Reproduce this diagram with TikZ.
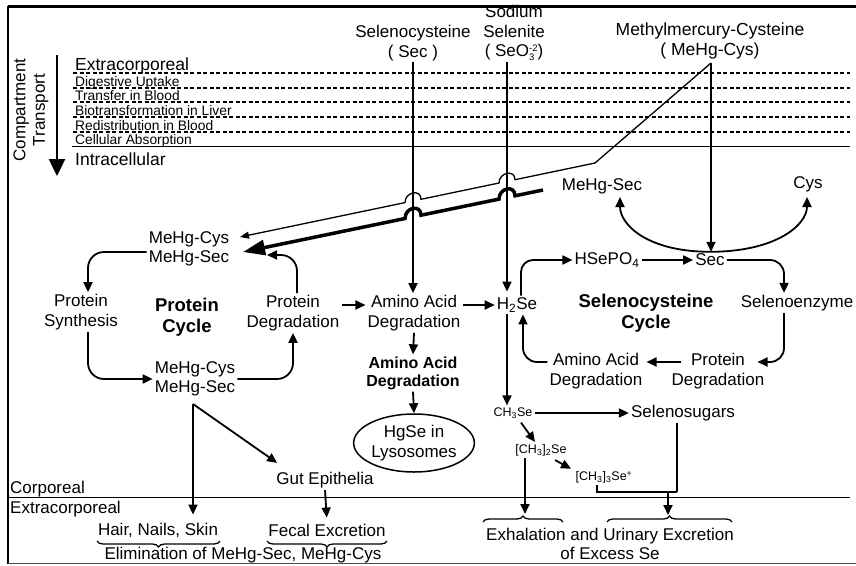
\documentclass[tikz,border=0pt]{standalone}
\usepackage{fontspec}
\setmainfont{Liberation Sans}
\usetikzlibrary{arrows.meta,shapes.geometric,decorations.pathreplacing}

\newcommand{\chemss}[2]{\rlap{\raisebox{-4pt}{\fontsize{9.5}{9.5}\selectfont #1}}\raisebox{5.5pt}{\fontsize{9.5}{9.5}\selectfont #2}}

\begin{document}
\begin{tikzpicture}[x=1pt,y=-1pt,
    every node/.style={font=\fontsize{17}{19.5}\selectfont, align=center, inner sep=2pt},
    lane/.style={font=\fontsize{13.8}{15}\selectfont, anchor=base west, inner sep=0pt},
    zone/.style={font=\fontsize{17.5}{20}\selectfont, anchor=base west, inner sep=0pt},
    chem/.style={font=\fontsize{12.5}{14}\selectfont},
    cyclab/.style={font=\fontsize{18.5}{20.5}\selectfont\bfseries},
    flow/.style={line width=1.8pt, -{Triangle[length=10pt,width=9pt]}},
    link/.style={line width=1.8pt},
    curly/.style={line width=1.3pt, decorate, decoration={brace, amplitude=6pt}},
]

\useasboundingbox (0,0) rectangle (856,565);

% frame
\draw[line width=3pt] (8,6) -- (856,6);
\draw[line width=2.2pt] (8,6) -- (8,564);
\draw[line width=1pt, black!70] (8,563.5) -- (856,563.5);

% compartments
\foreach \y in {73,88,102,117,132}
    \draw[line width=1.3pt, dash pattern=on 4pt off 2.5pt] (73,\y) -- (850,\y);
\draw[line width=1pt] (72,146) -- (850,146);
\draw[line width=1pt] (8,497) -- (850,497);

\foreach \y/\t in {86.5/Digestive Uptake, 100/Transfer in Blood, 115/Biotransformation in Liver, 130/Redistribution in Blood, 144.5/Cellular Absorption}
    \node[lane] at (75,\y) {\t};

\node[zone] (extop) at (75,70) {Extracorporeal};
\node[zone] (intra) at (75,165) {Intracellular};
\node[zone, font=\fontsize{17}{19}\selectfont] (corp) at (10,493) {Corporeal};
\node[zone, font=\fontsize{17}{19}\selectfont] (exbot) at (10,513) {Extracorporeal};

\node[rotate=90] (comp) at (31,110) {Compartment\\Transport};
\draw[line width=2.5pt, -{Triangle[length=17pt,width=16pt]}] (57,55) -- (57,176);

% sources
\node (secsrc) at (413,43) {Selenocysteine\\( Sec )};
\node (nasrc) at (514,33) {Sodium\\Selenite\\( SeO\chemss{3}{-2})};
\node[font=\fontsize{17.5}{19.5}\selectfont] (mhsrc) at (710,41) {Methylmercury-Cysteine\\( MeHg-Cys)};

\coordinate (sectop) at (413,62);
\coordinate (natop) at (507,62);
\coordinate (mhtop) at (711,63);

% protein cycle
\node (mtop) at (189,249) {MeHg-Cys\\MeHg-Sec};
\node (psyn) at (81,312) {Protein\\Synthesis};
\node[cyclab] (pcyc) at (187,317) {Protein\\Cycle};
\node (pdeg) at (293,313) {Protein\\Degradation};
\node (mbot) at (195,379) {MeHg-Cys\\MeHg-Sec};

\node (aad) at (414,313) {Amino Acid\\Degradation};
\node[font=\fontsize{16}{18}\selectfont\bfseries] (aadb) at (413,373) {Amino Acid\\Degradation};
\node[ellipse, draw, line width=1.5pt, minimum width=118pt, minimum height=58pt, inner sep=0pt] (hgse) at (414,443) {HgSe in\\Lysosomes};

% selenocysteine cycle
\node (h2se) at (517,305) {H\textsubscript{2}Se};
\node (hsepo) at (607,260) {HSePO\textsubscript{4}};
\node (sec) at (710,260) {Sec};
\node (msecr) at (602,186) {MeHg-Sec};
\node (cys) at (808,184) {Cys};
\node[cyclab] (scyc) at (646,313) {Selenocysteine\\Cycle};
\node (senz) at (797,303) {Selenoenzyme};
\node (pdegr) at (718,371) {Protein\\Degradation};
\node (aadr) at (596,371) {Amino Acid\\Degradation};

% methylation
\node[chem] (ch3se) at (513,413) {CH\textsubscript{3}Se};
\node (ssug) at (683,413) {Selenosugars};
\node[chem] (dmse) at (541,450) {[CH\textsubscript{3}]\textsubscript{2}Se};
\node[chem] (tmse) at (604,477) {[CH\textsubscript{3}]\textsubscript{3}Se\textsuperscript{+}};

% elimination
\node (gut) at (325,480) {Gut Epithelia};
\node (hair) at (158,530) {Hair, Nails, Skin};
\node (fecal) at (327,530) {Fecal Excretion};
\node (elim) at (243,555) {Elimination of MeHg-Sec, MeHg-Cys};
\node (exh) at (610,544) {Exhalation and Urinary Excretion\\of Excess Se};

\coordinate (mtin) at (240,237);
\coordinate (mtth) at (243,252);
\coordinate (thk) at (543,190);
\coordinate (pdin) at (267,255);
\coordinate (fork) at (193,404);
\coordinate (jn) at (677,492);
\coordinate (jm) at (668,492);
\coordinate (exl) at (525,514);
\coordinate (exr) at (668,515);

% inflow
\draw[flow] (sectop) -- (sectop |- aad.north);
\draw[flow, shorten >=4pt] (natop) -- (natop |- h2se.north);
\draw[flow] (mhtop) -- (mhtop |- sec.north);
\draw[line width=1.3pt, -{Triangle[length=9pt,width=7pt]}] (mhtop) -- (595,163) -- (515,179.7)
    .. controls (515,169) and (499,172.3) .. (499,183.0) -- (421,199.3)
    .. controls (421,188.6) and (405,191.9) .. (405,202.6) -- (mtin);
\draw[line width=3.5pt, -{Triangle[length=22pt,width=15pt]}] (thk) -- (515,195.8)
    .. controls (515,184.5) and (499,187.8) .. (499,199.1) -- (421,215.2)
    .. controls (421,203.9) and (405,207.2) .. (405,218.5) -- (mtth);
\draw[flow] (sec.north) .. controls +(-62,0) and +(0,28) .. (620,197);
\draw[flow] (sec.north) .. controls +(66,0) and +(0,28) .. (807,197);

% protein cycle arrows
\draw[flow, rounded corners=16pt] ([yshift=-3pt]mtop.west) -| ([xshift=7pt]psyn.north);
\draw[flow, rounded corners=16pt] ([xshift=7pt]psyn.south) |- (mbot.west);
\draw[flow, rounded corners=16pt] (mbot.east) -| (pdeg.south);
\draw[flow, rounded corners=16pt] ([xshift=4pt]pdeg.north) |- (pdin);
\draw[flow] ([yshift=8pt]pdeg.east) -- ([yshift=8pt]aad.west);
\draw[flow] ([yshift=8pt]aad.east) -- (h2se.west);
\draw[flow] (aad.south) -- (aadb.north);
\draw[flow] (aadb.south) -- (hgse.north);

% selenocysteine cycle arrows
\draw[flow, rounded corners=12pt] ([xshift=4pt]h2se.north) |- (hsepo.west);
\draw[flow] (hsepo.east) -- (sec.west);
\draw[flow, rounded corners=14pt] (sec.east) -| ([xshift=-13pt]senz.north);
\draw[flow, rounded corners=14pt] ([xshift=-13pt]senz.south) |- ([xshift=-9pt,yshift=9pt]pdegr.east);
\draw[flow] ([xshift=11pt,yshift=9pt]pdegr.west) -- ([xshift=2pt,yshift=9pt]aadr.east);
\draw[flow, rounded corners=14pt] ([yshift=9pt]aadr.west) -| ([xshift=6pt]h2se.south);

% methylation arrows
\draw[flow] (natop |- h2se.south) -- (natop |- ch3se.north);
\draw[flow] (ch3se.east) -- (ssug.west);
\draw[flow] ([xshift=8pt,yshift=-2pt]ch3se.south) -- ([xshift=-6pt]dmse.north);
\draw[flow] ([xshift=14pt,yshift=-2pt]dmse.south) -- ([xshift=-33pt]tmse.north);
\draw[flow] ([xshift=-16pt]dmse.south) -- (exl);
\draw[link] ([xshift=-6pt]ssug.south) |- (jn);
\draw[link] ([xshift=-7pt]tmse.south) |- (jn);
\draw[flow] (jm) -- (exr);

% elimination arrows
\draw[flow, shorten >=6pt] (fork) -- (fork |- hair.north);
\draw[flow] (fork) -- ([xshift=3pt,yshift=7pt]gut.north west);
\draw[flow, shorten >=4pt] (gut.south) -- (fecal.north);

\draw[curly, decoration={mirror}] (97,541) -- (220,541);
\draw[curly, decoration={mirror}] (267,541) -- (387,541);
\draw[curly] (483,522) -- (563,522);
\draw[curly] (607,522) -- (732,522);

\end{tikzpicture}
\end{document}
